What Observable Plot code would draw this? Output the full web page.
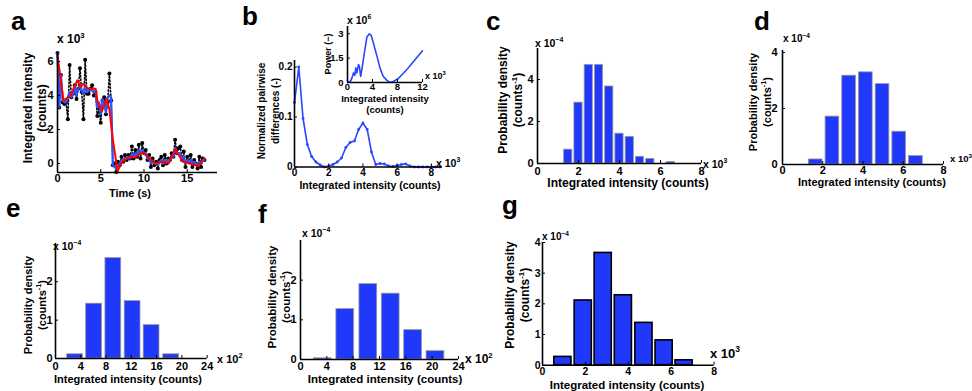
<!DOCTYPE html>
<html><head><meta charset="utf-8">
<script src="https://cdn.jsdelivr.net/npm/d3@7"></script>
<script src="https://cdn.jsdelivr.net/npm/@observablehq/plot@0.6"></script>
<style>
body{margin:0;background:#fff;}
#fig{position:relative;width:972px;height:391px;overflow:hidden;background:#fff;}
</style></head>
<body><div id="fig"></div>
<script>
// ---------- DATA ----------
// panel a: raw trace (black), filtered (blue), step fit (red); x in s, y in 10^3 counts
const aTime = [0,0.2,0.4,0.6,0.8,1.0,1.2,1.4,1.6,1.8,2.0,2.2,2.4,2.6,2.8,3.0,3.2,3.4,3.6,3.8,4.0,4.2,4.4,4.6,4.8,5.0,5.2,5.4,5.6,5.8,6.0,6.2,
  6.4,6.6,6.8,7.0,7.2,7.4,7.6,7.8,8.0,8.2,8.4,8.6,8.8,9.0,9.2,9.4,9.6,9.8,10.0,10.2,10.4,10.6,10.8,11.0,11.2,11.4,11.6,11.8,12.0,12.2,
  12.4,12.6,12.8,13.0,13.2,13.4,13.6,13.8,14.0,14.2,14.4,14.6,14.8,15.0,15.2,15.4,15.6,15.8,16.0,16.2,16.4,16.6,16.8,17.0];
const aRaw = [6.5,3.3,5.2,3.6,3.5,3.6,2.6,5.8,3.9,4.1,4.6,3.8,4.4,5.6,4.2,2.6,6.1,4.1,4.1,4.4,4.6,4.0,4.2,2.8,3.3,2.4,3.7,3.9,2.9,3.6,5.3,3.7,
  -0.1,0.0,-0.5,0.1,-0.1,0.4,0.1,0.5,0.2,0.5,0.3,1.0,0.3,0.8,0.4,1.1,0.3,1.2,0.6,0.8,0.2,0.5,-0.2,0.3,-0.1,0.1,-0.3,0.2,0.4,-0.1,
  0.5,0.0,0.3,0.2,0.6,0.4,1.4,0.6,0.9,1.0,0.2,0.7,-0.2,0.4,0.1,0.5,-0.2,0.2,0.0,-0.3,0.4,-0.2,0.3,0.2];
const aBlue = [6.5,3.3,5.2,3.7,3.6,3.6,3.9,4.2,3.9,4.1,4.6,4.0,4.4,4.6,4.3,4.1,4.5,4.2,4.3,4.3,4.3,4.2,4.3,3.3,3.6,2.9,3.8,3.6,3.0,3.9,4.0,3.9,
  -0.1,-0.2,-0.3,-0.1,0.0,0.2,0.2,0.3,0.3,0.4,0.3,0.6,0.4,0.6,0.5,0.8,0.6,0.8,0.6,0.6,0.3,0.3,0.0,0.1,0.0,0.0,-0.1,0.1,0.2,0.0,
  0.2,0.1,0.2,0.2,0.4,0.4,0.9,0.6,0.6,0.6,0.3,0.4,0.0,0.2,0.1,0.2,0.0,0.1,0.0,-0.1,0.1,0.0,0.2,0.2];
const aRedTime = [0,0.7,1.5,2.3,2.65,3.0,3.5,4.4,4.65,5.15,5.65,6.0,6.4,6.95,7.45,8.4,8.9,9.8,10.35,11.3,12.3,12.85,13.6,14.5,16.3,16.95];
const aRed = [6.35,3.7,4.0,4.9,4.5,4.7,4.4,4.4,3.6,3.1,3.8,3.2,1.4,-0.45,0.1,0.4,0.35,0.65,0.45,0.0,0.1,0.0,0.85,0.1,-0.15,0.3];
const aXTicks = [0,5,10,15], aYTicks = [0,2,4,6];

// panel b: normalized pairwise differences (x in 10^3 counts)
const bX = [0,0.25,0.5,0.75,1.0,1.25,1.5,1.75,2.0,2.25,2.5,2.75,3.0,3.25,3.5,3.75,4.0,4.25,4.5,4.75,5.0,5.25,5.5,5.75,6.0,6.25,6.5,6.75,7.0,7.25,7.5,7.75,8.0,8.25,8.5];
const bY = [0.129,0.2,0.097,0.045,0.021,0.01,0.004,0.0,0.002,0.005,0.01,0.018,0.039,0.049,0.052,0.075,0.088,0.075,0.03,0.005,0.007,0.006,0.002,0.001,0.003,0.005,0.006,0.002,0,0,0,0,0,0,0];
const bXTicks = [0,2,4,6,8], bYTicks = [0,0.1,0.2];
// panel b inset: power spectrum (x in 10^3 counts, y in 10^6)
const insX = [0.1,0.5,0.7,0.96,1.17,1.33,1.5,1.75,1.9,2.1,2.3,2.66,3.1,3.5,3.8,4.1,4.7,5.2,5.7,6.3,6.8,7.3,8.1,9.5,12.0];
const insY = [0.0,0.1,0.27,0.59,0.44,0.9,0.59,1.1,1.0,0.38,0.8,1.74,2.8,3.0,2.9,2.5,1.64,0.9,0.38,0.13,0.0,0.06,0.23,0.8,1.95];
const insXTicks = [0,4,8,12], insYTicks = [0,1.5,3];

// histograms: bin centres and probability density (10^-4 per count)
const cCenters = [1.5,2.0,2.5,3.0,3.5,4.0,4.5,5.0,5.5,6.0,6.5];
const cDensity = [0.66,2.9,4.7,4.7,3.67,1.42,1.27,0.32,0.22,0,0.07];
const dCenters = [1.65,2.48,3.31,4.14,4.97,5.8,6.63];
const dDensity = [0.18,1.71,3.17,3.29,2.87,1.17,0.3];
const eCenters = [3.1,6.1,9.15,12.2,15.2,18.3];   // 10^2 counts
const eDensity = [0.11,1.43,2.62,1.5,0.87,0.11];
const fCenters = [3.4,6.8,10.3,13.7,17.1,20.5];   // 10^2 counts
const fDensity = [0.03,1.27,1.9,1.66,0.74,0.21];
const gCenters = [0.95,1.9,2.83,3.77,4.73,5.67,6.6];
const gDensity = [0.27,2.11,3.66,2.28,1.38,0.81,0.16];
const hist8Ticks = [0,2,4,6,8], hist24Ticks = [0,4,8,12,16,20,24];

// ---------- DRAWING ----------
const FONT = '"Liberation Sans", Arial, Helvetica, sans-serif';
const BLUE = "#2038fa";
const fig = document.getElementById("fig");
const fmt = d => String(d);

function panel({box, xDomain, yDomain, xTicks, yTicks, marks, fs = 11, xPad = 3, yPad = 3, m = {l: 30, r: 30, t: 20, b: 25}}) {
  const [fx0, fx1, fy0, fy1] = box;
  const iw = fx1 - fx0, ih = fy1 - fy0;
  const svg = Plot.plot({
    width: iw + m.l + m.r, height: ih + m.t + m.b,
    marginLeft: m.l, marginRight: m.r, marginTop: m.t, marginBottom: m.b,
    x: {domain: xDomain}, y: {domain: yDomain},
    style: {background: "none", fontFamily: FONT, fontSize: fs + "px", fontWeight: "bold", color: "black", overflow: "visible"},
    marks: [
      ...marks,
      Plot.ruleX(xTicks, {stroke: "black", strokeWidth: 1, insetTop: ih - 3}),
      Plot.ruleY(yTicks, {stroke: "black", strokeWidth: 1, insetRight: iw - 3}),
      Plot.ruleX([xDomain[0]], {stroke: "black", strokeWidth: 1.6}),
      Plot.ruleY([yDomain[0]], {stroke: "black", strokeWidth: 1.6}),
      Plot.axisX(xTicks, {tickSize: 0, tickPadding: xPad, label: null, tickFormat: fmt}),
      Plot.axisY(yTicks, {tickSize: 0, tickPadding: yPad, label: null, tickFormat: fmt})
    ]
  });
  svg.style.position = "absolute";
  svg.style.left = (fx0 - m.l) + "px";
  svg.style.top = (fy0 - m.t) + "px";
  fig.appendChild(svg);
}

function bars(centers, dens, width, stroke, sw) {
  const rows = centers.map((c, i) => ({c, h: dens[i]})).filter(d => d.h > 0);
  return Plot.rectY(rows, {x1: d => d.c - width / 2, x2: d => d.c + width / 2, y: "h", fill: BLUE, stroke, strokeWidth: sw});
}

// a
const aRows = aTime.map((t, i) => ({t, raw: aRaw[i], blue: aBlue[i]}));
const aRedRows = aRedTime.map((t, i) => ({t, v: aRed[i]}));
panel({box: [57, 217, 52, 172], xDomain: [0, 18.5], yDomain: [-0.53, 6.53], xTicks: aXTicks, yTicks: aYTicks, xPad: 2, yPad: 4, fs: 11,
  marks: [
    Plot.line(aRows, {x: "t", y: "raw", stroke: "black", strokeWidth: 1.6, strokeDasharray: "1.5,2"}),
    Plot.dot(aRows, {x: "t", y: "raw", r: 2, fill: "black"}),
    Plot.line(aRows, {x: "t", y: "blue", stroke: "#2f52ff", strokeWidth: 2.2}),
    Plot.line(aRedRows, {x: "t", y: "v", stroke: "#ff0000", strokeWidth: 2})
  ]});

// b main
const bRows = bX.map((x, i) => ({x, y: bY[i]}));
panel({box: [294, 442, 60, 166.5], xDomain: [0, 8.65], yDomain: [0, 0.213], xTicks: bXTicks, yTicks: bYTicks, xPad: 2, yPad: 2, fs: 10,
  marks: [
    Plot.line(bRows, {x: "x", y: "y", stroke: "#2a46ff", strokeWidth: 1.6}),
    Plot.dot(bRows, {x: "x", y: "y", r: 1.4, fill: "#2a46ff"})
  ]});
// b inset
const insRows = insX.map((x, i) => ({x, y: insY[i]}));
panel({box: [347.3, 422.3, 26, 82], xDomain: [0, 12], yDomain: [0, 3.45], xTicks: insXTicks, yTicks: insYTicks, xPad: 1, yPad: 4, fs: 9.5,
  m: {l: 25, r: 25, t: 15, b: 12},
  marks: [Plot.line(insRows, {x: "x", y: "y", stroke: "#2a46ff", strokeWidth: 1.6})]});

// c
panel({box: [537, 701, 48, 163], xDomain: [0, 8], yDomain: [0, 5.48], xTicks: hist8Ticks, yTicks: [0, 2, 4], xPad: 4, yPad: 4, fs: 11,
  marks: [bars(cCenters, cDensity, 0.4, "#9a9a9a", 0.8)]});
// d
panel({box: [782, 943, 50, 164], xDomain: [0, 8], yDomain: [0, 4.07], xTicks: hist8Ticks, yTicks: [0, 2, 4], xPad: 2, yPad: 5, fs: 11,
  marks: [bars(dCenters, dDensity, 0.68, "#9a9a9a", 0.8)]});
// e
panel({box: [55.3, 207, 242.7, 357.7], xDomain: [0, 24], yDomain: [0, 3], xTicks: hist24Ticks, yTicks: [0, 1, 2], xPad: 4, yPad: 3, fs: 11,
  marks: [bars(eCenters, eDensity, 2.5, "#9a9a9a", 0.8)]});
// f
panel({box: [300, 458, 240, 359], xDomain: [0, 24], yDomain: [0, 3], xTicks: hist24Ticks, yTicks: [0, 1, 2], xPad: 3, yPad: 4, fs: 11,
  marks: [bars(fCenters, fDensity, 2.7, "#9a9a9a", 0.8)]});
// g
panel({box: [541.7, 713.3, 242.3, 365], xDomain: [0, 8], yDomain: [0, 4], xTicks: hist8Ticks, yTicks: [0, 1, 2, 3, 4], xPad: 2, yPad: 2, fs: 10.5,
  marks: [bars(gCenters, gDensity, 0.8, "black", 1.6)]});

// ---------- TEXT OVERLAY ----------
const ov = d3.select(fig).append("svg").attr("width", 972).attr("height", 391)
  .style("position", "absolute").style("left", 0).style("top", 0)
  .style("font-family", FONT).style("font-weight", "bold").style("pointer-events", "none");
function T(x, y, parts, {size = 12, anchor = "start", rotate = false} = {}) {
  const t = ov.append("text").attr("font-size", size).attr("text-anchor", anchor).attr("fill", "black");
  if (rotate) t.attr("transform", `translate(${x},${y}) rotate(-90)`);
  else t.attr("x", x).attr("y", y);
  let shift = 0;
  for (const p of [].concat(parts)) {
    if (typeof p === "string") {
      t.append("tspan").attr("dy", -shift).text(p); shift = 0;
    } else {
      const s = size * 0.45;
      t.append("tspan").attr("dy", -s).attr("font-size", size * 0.65).text(p.sup); shift = -s;
    }
  }
}
// panel letters
[["a", 11, 30], ["b", 242, 25], ["c", 486, 30], ["d", 754, 30], ["e", 6, 217], ["f", 258, 223], ["g", 502, 214]]
  .forEach(([s, x, y]) => T(x, y, s, {size: 26}));
// exponents
T(57, 43, ["x 10", {sup: "3"}], {size: 12});
T(436, 167, ["x 10", {sup: "3"}], {size: 10.5});
T(347, 24, ["x 10", {sup: "6"}], {size: 10.5});
T(425, 79, ["x 10", {sup: "3"}], {size: 9});
T(535, 47, ["x 10", {sup: "−4"}], {size: 10.5});
T(703, 168, ["x 10", {sup: "3"}], {size: 10.5});
T(783, 42, ["x 10", {sup: "−4"}], {size: 10});
T(950, 162, ["x 10", {sup: "3"}], {size: 9.5});
T(53, 250, ["x 10", {sup: "−4"}], {size: 10.5});
T(217, 363, ["x 10", {sup: "2"}], {size: 11});
T(302, 237, ["x 10", {sup: "−4"}], {size: 10.5});
T(465, 363, ["x 10", {sup: "2"}], {size: 12});
T(542, 240, ["x 10", {sup: "−4"}], {size: 10});
T(710, 358, ["x 10", {sup: "3"}], {size: 13});
// x-axis titles
T(130, 197, "Time (s)", {size: 11, anchor: "middle"});
T(370, 189, "Integrated intensity (counts)", {size: 10.5, anchor: "middle"});
T(385, 102, "Integrated intensity", {size: 9.5, anchor: "middle"});
T(385, 113, "(counts)", {size: 9.5, anchor: "middle"});
T(628, 187, "Integrated intensity (counts)", {size: 12, anchor: "middle"});
T(872, 186, "Integrated intensity (counts)", {size: 11, anchor: "middle"});
T(128, 383, "Integrated intensity (counts)", {size: 11, anchor: "middle"});
T(385, 383, "Integrated intensity (counts)", {size: 11.5, anchor: "middle"});
T(627, 389, "Integrated intensity (counts)", {size: 11.5, anchor: "middle"});
// y-axis titles
T(32, 108, "Integrated intensity", {size: 12, anchor: "middle", rotate: true});
T(46, 108, "(counts)", {size: 12, anchor: "middle", rotate: true});
T(265, 111, "Normalized pairwise", {size: 10, anchor: "middle", rotate: true});
T(279, 111, "differences (-)", {size: 10, anchor: "middle", rotate: true});
T(331, 54, "Power (−)", {size: 9, anchor: "middle", rotate: true});
const pd = (x1, x2, y, size) => {
  T(x1, y, "Probability density", {size, anchor: "middle", rotate: true});
  T(x2, y, ["(counts", {sup: "-1"}, ")"], {size, anchor: "middle", rotate: true});
};
pd(507, 522, 100, 12);
pd(757, 771, 102, 11);
pd(32, 46, 305, 11);
pd(276, 290, 297, 11.5);
pd(514, 529, 295, 12);
</script></body></html>
